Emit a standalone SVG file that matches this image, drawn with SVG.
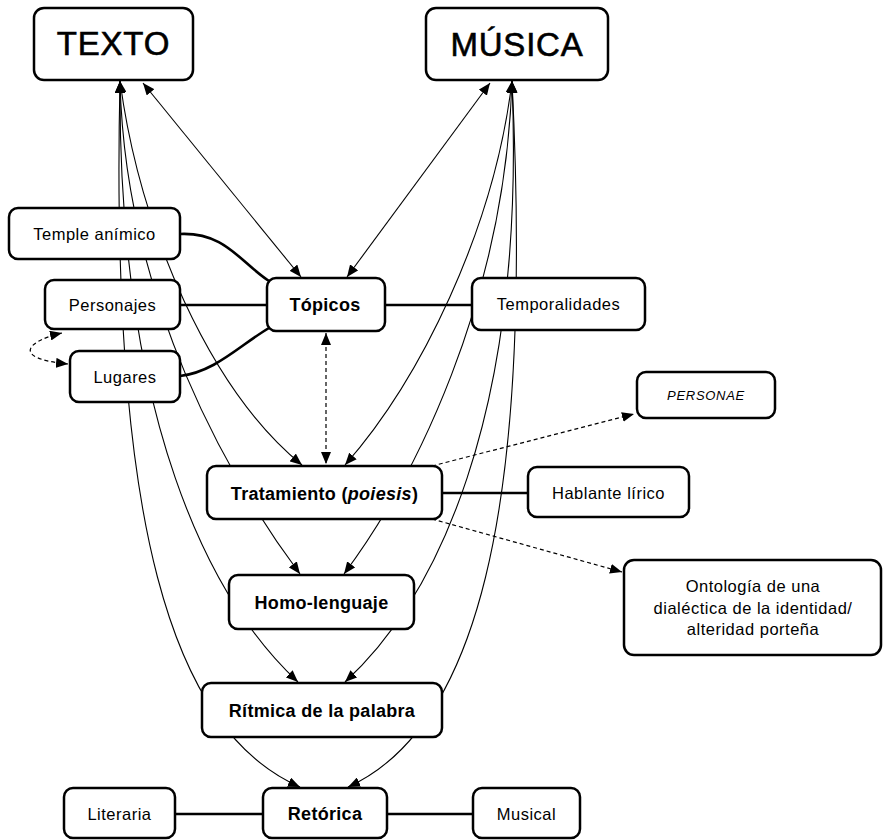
<svg xmlns="http://www.w3.org/2000/svg" width="883" height="840" viewBox="0 0 883 840">
<defs>
<style>
.box{fill:#fff;stroke:#000;stroke-width:2.5}
.t{font-family:"Liberation Sans",Arial,Helvetica,sans-serif;font-size:16.5px;letter-spacing:0.5px;text-anchor:middle;fill:#000}
.b{font-weight:bold;font-size:18px;letter-spacing:0.3px}
.big{font-size:33px;letter-spacing:0.8px;stroke:#000;stroke-width:0.6}
.c{fill:none;stroke:#000;stroke-width:1.1}
.k{fill:none;stroke:#000;stroke-width:2.6}
.d{fill:none;stroke:#000;stroke-width:1.2;stroke-dasharray:4 3}
</style>
<marker id="ah" viewBox="0 0 12 10" refX="12" refY="5" markerWidth="12" markerHeight="10" markerUnits="userSpaceOnUse" orient="auto-start-reverse"><path d="M0,0L12,5L0,10z" fill="#000"/></marker>
</defs>
<g id="connectors">
<path class="c" d="M120,81 C140,230 210,390 302,465" marker-start="url(#ah)" marker-end="url(#ah)"/>
<path class="c" d="M120,81 C125,300 230,480 300,574" marker-start="url(#ah)" marker-end="url(#ah)"/>
<path class="c" d="M120,81 C118,420 210,600 298,682" marker-start="url(#ah)" marker-end="url(#ah)"/>
<path class="c" d="M120,81 C110,520 170,730 300,787" marker-start="url(#ah)" marker-end="url(#ah)"/>
<path class="c" d="M512,81 C494,230 420,380 345,465" marker-start="url(#ah)" marker-end="url(#ah)"/>
<path class="c" d="M512,81 C505,300 414,480 344,574" marker-start="url(#ah)" marker-end="url(#ah)"/>
<path class="c" d="M512,81 C526,420 434,600 345,682" marker-start="url(#ah)" marker-end="url(#ah)"/>
<path class="c" d="M512,81 C534,520 474,730 348,787" marker-start="url(#ah)" marker-end="url(#ah)"/>
<path class="c" d="M143,83 L301,277" marker-start="url(#ah)" marker-end="url(#ah)"/>
<path class="c" d="M490,83 L347,277" marker-start="url(#ah)" marker-end="url(#ah)"/>
<path class="d" d="M326,333 V464" marker-start="url(#ah)" marker-end="url(#ah)"/>
<path class="d" d="M62,333 C30,340 8,358 68,364" marker-start="url(#ah)" marker-end="url(#ah)"/>
<path class="d" d="M432,466 L634,414" marker-end="url(#ah)"/>
<path class="d" d="M432,519 L622,572" marker-end="url(#ah)"/>
<path class="k" d="M180,234 C225,232 240,262 269,281"/>
<path class="k" d="M180,305 H267"/>
<path class="k" d="M180,376 C215,372 240,345 269,328"/>
<path class="k" d="M385,305 H472"/>
<path class="k" d="M442,493 H528"/>
<path class="k" d="M175,814 H263"/>
<path class="k" d="M387,814 H473"/>
</g>
<g id="texto"><rect class="box" x="34" y="8" width="159" height="72" rx="10"/><text class="t big" x="113.5" y="55">TEXTO</text></g>
<g id="musica"><rect class="box" x="426" y="8" width="182" height="72" rx="10"/><text class="t big" x="517" y="56">MÚSICA</text></g>
<g id="temple"><rect class="box" x="9" y="208" width="171" height="51" rx="9"/><text class="t" x="94.5" y="240">Temple anímico</text></g>
<g id="personajes"><rect class="box" x="45" y="280" width="135" height="49" rx="9"/><text class="t" x="112.5" y="310.5">Personajes</text></g>
<g id="lugares"><rect class="box" x="70" y="351" width="110" height="51" rx="9"/><text class="t" x="125" y="382.5">Lugares</text></g>
<g id="topicos"><rect class="box" x="267" y="278" width="118" height="53" rx="9"/><text class="t b" x="325" y="311">Tópicos</text></g>
<g id="temporalidades"><rect class="box" x="472" y="278" width="173" height="52" rx="9"/><text class="t" x="558.5" y="310">Temporalidades</text></g>
<g id="tratamiento"><rect class="box" x="207" y="466" width="235" height="53" rx="9"/><text class="t b" x="324.5" y="500">Tratamiento (<tspan font-style="italic">poiesis</tspan>)</text></g>
<g id="personae"><rect class="box" x="637" y="372" width="138" height="46" rx="9"/><text class="t" x="706" y="400" style="font-size:13px;font-style:italic;letter-spacing:0.7px">PERSONAE</text></g>
<g id="hablante"><rect class="box" x="528" y="467" width="161" height="50" rx="9"/><text class="t" x="608.5" y="499">Hablante lírico</text></g>
<g id="ontologia"><rect class="box" x="624" y="560" width="257" height="95" rx="10"/><text class="t" x="753" y="592">Ontología de una</text><text class="t" x="753" y="613.5">dialéctica de la identidad/</text><text class="t" x="753" y="635">alteridad porteña</text></g>
<g id="homo"><rect class="box" x="229" y="575" width="185" height="54" rx="9"/><text class="t b" x="321.5" y="609">Homo-lenguaje</text></g>
<g id="ritmica"><rect class="box" x="202" y="683" width="240" height="54" rx="9"/><text class="t b" x="322" y="716.5">Rítmica de la palabra</text></g>
<g id="literaria"><rect class="box" x="64" y="788" width="111" height="50" rx="9"/><text class="t" x="119.5" y="820">Literaria</text></g>
<g id="retorica"><rect class="box" x="263" y="788" width="124" height="50" rx="9"/><text class="t b" x="325" y="820">Retórica</text></g>
<g id="musical"><rect class="box" x="473" y="788" width="107" height="50" rx="9"/><text class="t" x="526.5" y="820">Musical</text></g>
</svg>
